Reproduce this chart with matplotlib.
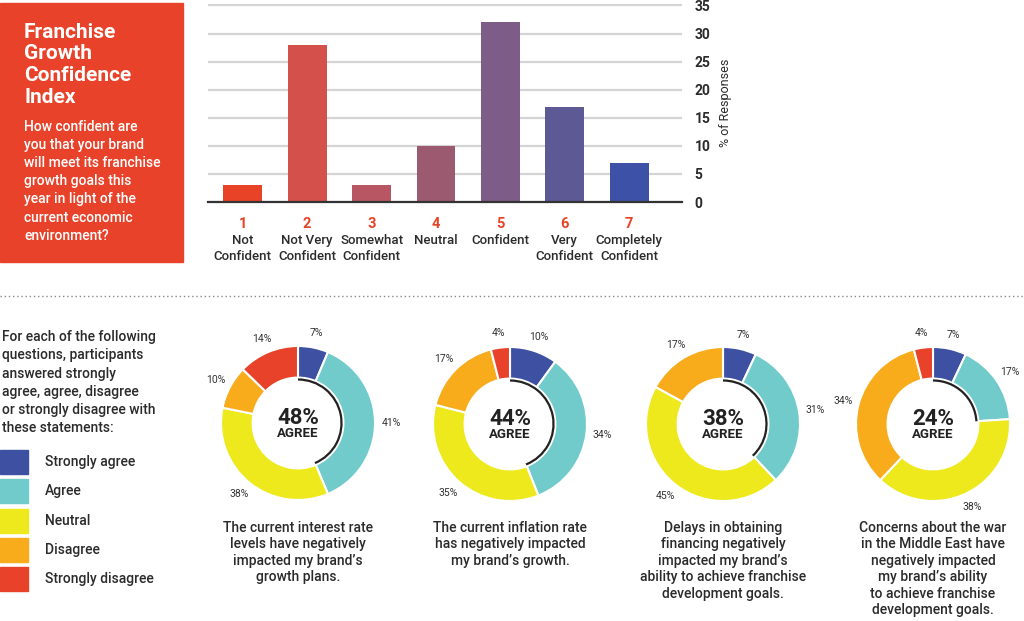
import matplotlib
matplotlib.use("Agg")
import matplotlib.pyplot as plt
from matplotlib.patches import Arc, Rectangle
from matplotlib.lines import Line2D
import numpy as np

plt.rcParams['font.family'] = ['Roboto', 'DejaVu Sans']

W, H = 1024, 621

# --- bar chart data
levels = ['1', '2', '3', '4', '5', '6', '7']
level_names = ['Not\nConfident', 'Not Very\nConfident', 'Somewhat\nConfident', 'Neutral',
               'Confident', 'Very\nConfident', 'Completely\nConfident']
responses = [3, 28, 3, 10, 32, 17, 7]
bar_colors = ['#E84326', '#D4514B', '#B85763', '#9C5A71', '#7E5C88', '#5C5995', '#3D52A6']
y_ticks = [0, 5, 10, 15, 20, 25, 30, 35]

# --- donut data (strongly agree, agree, neutral, disagree, strongly disagree)
answer_names = ['Strongly agree', 'Agree', 'Neutral', 'Disagree', 'Strongly disagree']
answer_colors = ['#3E50A2', '#72CBCB', '#EDE91C', '#F8AC1C', '#E8432A']
interest_rate = [7, 41, 38, 10, 14]
inflation = [10, 34, 35, 17, 4]
financing = [7, 31, 45, 17, 0]
middle_east = [7, 17, 38, 34, 4]
statements = [
    "The current interest rate\nlevels have negatively\nimpacted my brand\u2019s\ngrowth plans.",
    "The current inflation rate\nhas negatively impacted\nmy brand\u2019s growth.",
    "Delays in obtaining\nfinancing negatively\nimpacted my brand\u2019s\nability to achieve franchise\ndevelopment goals.",
    "Concerns about the war\nin the Middle East have\nnegatively impacted\nmy brand\u2019s ability\nto achieve franchise\ndevelopment goals.",
]

title_lines = ['Franchise', 'Growth', 'Confidence', 'Index']
question_lines = ['How confident are', 'you that your brand', 'will meet its franchise',
                  'growth goals this', 'year in light of the', 'current economic', 'environment?']
intro_lines = ['For each of the following', 'questions, participants', 'answered strongly',
               'agree, agree, disagree', 'or strongly disagree with', 'these statements:']

DARK = '#2b2b2b'
MED = 'medium'


def box(x, y, w, h):
    # pixel box (top-left origin) -> figure fraction
    return [x / W, 1 - (y + h) / H, w / W, h / H]


def fx(x):
    return x / W


def fy(y):
    return 1 - y / H


fig = plt.figure(figsize=(W / 100, H / 100), dpi=100)
fig.patch.set_facecolor('white')

# red title panel
fig.patches.append(Rectangle((fx(0), fy(262)), fx(183), 259 / H, transform=fig.transFigure,
                             color='#E8432A', zorder=0))
for i, line in enumerate(title_lines):
    fig.text(fx(24), fy(32 + i * 21.7), line, color='white', fontsize=15, fontweight='bold',
             va='center', ha='left')
for i, line in enumerate(question_lines):
    fig.text(fx(24), fy(127 + i * 18.1), line, color='white', fontsize=10, fontweight=MED,
             va='center', ha='left')

# bar chart
ymax = 35.2
px_per_unit = (202 - 5.5) / 35
top = 202 - ymax * px_per_unit
ax = fig.add_axes(box(208, top, 682 - 208, 202 - top))
x = np.arange(len(responses))
ax.bar(x, responses, width=0.6, color=bar_colors, zorder=3)
ax.set_xlim(-0.54, 6.82)
ax.set_ylim(0, ymax)
ax.set_yticks(y_ticks)
ax.yaxis.tick_right()
ax.tick_params(axis='y', length=0, pad=9, labelsize=10, labelcolor=DARK)
for lab in ax.get_yticklabels():
    lab.set_fontweight('bold')
ax.set_xticks([])
ax.grid(axis='y', color='#d4d4d4', linewidth=1.6, zorder=0)
for s in ['top', 'left', 'right']:
    ax.spines[s].set_visible(False)
ax.spines['bottom'].set_color('#333333')
ax.spines['bottom'].set_linewidth(1.6)
ax.spines['bottom'].set_zorder(4)
ax.yaxis.set_label_position('right')
ax.set_ylabel('% of Responses', fontsize=9, color=DARK, labelpad=6)
trans = ax.get_xaxis_transform()
for xi, num, name in zip(x, levels, level_names):
    ax.text(xi, -22 / (202 - top), num, transform=trans, ha='center', va='center',
            color='#E84326', fontsize=10.5, fontweight='bold')
    ax.text(xi, -32 / (202 - top), name, transform=trans, ha='center', va='top',
            color=DARK, fontsize=9.5, fontweight=MED, linespacing=1.3)

# dotted separator
fig.add_artist(Line2D([0, 1], [fy(296), fy(296)], transform=fig.transFigure,
                      color='#8a8a8a', linestyle=(0, (1, 2)), linewidth=1))

# intro text and legend
for i, line in enumerate(intro_lines):
    fig.text(fx(2), fy(337 + i * 18.3), line, color=DARK, fontsize=10, fontweight=MED,
             va='center', ha='left')
for i, (name, col) in enumerate(zip(answer_names, answer_colors)):
    yc = 462 + i * 29.3
    fig.patches.append(Rectangle((fx(0), fy(yc + 12)), fx(28), 24 / H, transform=fig.transFigure,
                                 color=col))
    fig.text(fx(45), fy(yc), name, color=DARK, fontsize=10, fontweight=MED, va='center', ha='left')

# donuts
R = 1.4286
centers = [(298, 423), (510, 424), (723, 424), (933, 424)]
for (cx, cy), values, caption in zip(centers, [interest_rate, inflation, financing, middle_east], statements):
    dax = fig.add_axes(box(cx - 110, cy - 110, 220, 220))
    dax.pie(values, colors=answer_colors, startangle=90, counterclock=False, radius=1,
            wedgeprops=dict(width=0.41, edgecolor='white', linewidth=1.5))
    dax.set_xlim(-R, R)
    dax.set_ylim(-R, R)
    dax.set_aspect('equal')
    dax.axis('off')
    total = sum(values)
    agree = values[0] + values[1]
    agree_deg = 360 * agree / total
    dax.add_patch(Arc((0, 0), 1.13, 1.13, theta1=90 - agree_deg, theta2=90,
                      color='#222222', linewidth=1.6))
    start = 0
    for v in values:
        if v > 0:
            mid = (start + v / 2) / total * 2 * np.pi
            dax.text(1.21 * np.sin(mid), 1.19 * np.cos(mid), f'{v}%', ha='center', va='center',
                     fontsize=7.5, color='#333333')
        start += v
    dax.text(0, 0.07, f'{agree}%', ha='center', va='center', fontsize=16, fontweight='bold', color='#222222')
    dax.text(0, -0.14, 'AGREE', ha='center', va='center', fontsize=9.5, fontweight='bold', color='#222222')
    fig.text(fx(cx), fy(521), caption, ha='center', va='top', multialignment='center',
             fontsize=10, fontweight=MED, color=DARK, linespacing=1.22)

fig.savefig('out.png', dpi=100)
